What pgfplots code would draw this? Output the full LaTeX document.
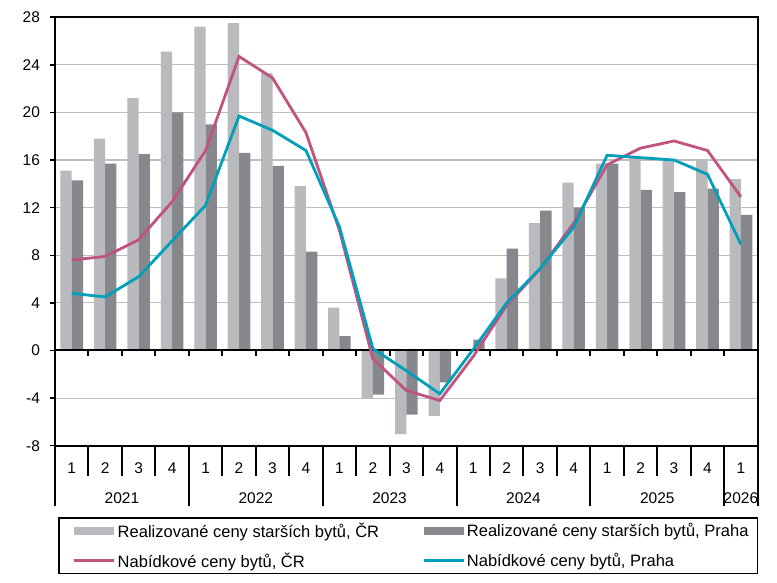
\documentclass[border=0pt]{standalone}
\usepackage{fontspec}
\setmainfont{Liberation Sans}
\usepackage{pgfplots}
\usepackage{pgfplotstable}
\pgfplotsset{compat=1.18}
\definecolor{lightbar}{RGB}{184,186,190}
\definecolor{darkbar}{RGB}{134,136,141}
\definecolor{pinkline}{RGB}{192,84,126}
\definecolor{tealline}{RGB}{0,160,186}
\definecolor{gridgray}{RGB}{191,191,191}

\pgfplotstableread{
x  light  dark   pink   teal
0  15.1   14.3   7.6    4.8
1  17.8   15.7   7.9    4.5
2  21.2   16.5   9.3    6.2
3  25.1   20.0   12.5   9.2
4  27.2   19.0   16.8   12.2
5  27.5   16.6   24.7   19.7
6  23.3   15.5   22.9   18.5
7  13.8   8.3    18.3   16.8
8  3.6    1.2    10.1   10.4
9  -4.05  -3.7   -0.7   0.15
10 -7.03  -5.38  -3.36  -1.7
11 -5.5   -2.69  -4.2   -3.64
12 0.08   0.92   -0.5   0.1
13 6.05   8.56   3.8    4.0
14 10.7   11.75  6.85   6.9
15 14.1   12.0   10.7   10.35
16 15.7   15.7   15.6   16.4
17 16.2   13.5   17.0   16.2
18 15.9   13.3   17.6   16.0
19 15.9   13.6   16.8   14.8
20 14.4   11.4   12.9   8.9
}\datatable

\begin{document}
\begin{tikzpicture}
\useasboundingbox (0,0) rectangle (777pt,583pt);
\begin{axis}[
  at={(55pt,137.3pt)}, anchor=south west,
  scale only axis, width=702.7pt, height=428.5pt,
  xmin=-0.5, xmax=20.5, ymin=-8, ymax=28,
  clip=false,
  axis line style={black, line width=2pt},
  ytick={-8,-4,0,4,8,12,16,20,24,28},
  yticklabels={-8,-4,0,4,8,12,16,20,24,28},
  ymajorgrids, grid style={gridgray, line width=1.1pt},
  ytick pos=left, tick align=outside,
  y tick style={black, line width=1.5pt}, major tick length=5pt,
  xtick={0,1,2,3,4,5,6,7,8,9,10,11,12,13,14,15,16,17,18,19,20},
  xticklabels={1,2,3,4,1,2,3,4,1,2,3,4,1,2,3,4,1,2,3,4,1},
  x tick style={draw=none},
  tick label style={font=\fontsize{15.5}{18}\selectfont},
  yticklabel style={xshift=-6.5pt},
  xticklabel style={anchor=center, yshift=-17.3pt},
  extra x ticks={1.5,5.5,9.5,13.5,17.5,20},
  extra x tick labels={2021,2022,2023,2024,2025,2026},
  extra x tick style={xticklabel style={yshift=-30pt}, x tick style={draw=none}},
  legend columns=2,
  legend cell align=left,
  legend style={at={(0,0)}, anchor=north west, xshift=3.3pt, yshift=-71.6pt,
    draw=black, line width=1.3pt, inner xsep=7pt, inner ysep=5pt,
    font=\fontsize{16.5}{19}\selectfont, row sep=14pt,
    nodes={inner xsep=2pt, inner ysep=0pt},
    /tikz/every even column/.append style={column sep=34pt}},
]
\addplot[ybar, bar width=11.3pt, bar shift=-5.65pt, fill=lightbar, draw=none,
  legend image code/.code={\path (0pt,0pt); \fill[lightbar] (7pt,-4pt) rectangle (47pt,4pt);}]
  table[x=x, y=light] {\datatable};
\addlegendentry{Realizované ceny starších bytů, ČR}
\addplot[ybar, bar width=11.3pt, bar shift=5.65pt, fill=darkbar, draw=none,
  legend image code/.code={\path (0pt,0pt); \fill[darkbar] (7pt,-4pt) rectangle (47pt,4pt);}]
  table[x=x, y=dark] {\datatable};
\addlegendentry{Realizované ceny starších bytů, Praha}

\draw[black, line width=2pt] (axis cs:-0.5,0) -- (axis cs:20.5,0);
\pgfplotsinvokeforeach{0.5,1.5,2.5,3.5,4.5,5.5,6.5,7.5,8.5,9.5,10.5,11.5,12.5,13.5,14.5,15.5,16.5,17.5,18.5,19.5}{
  \draw[black, line width=2pt] (axis cs:#1,0) -- ([yshift=-5.5pt]axis cs:#1,0);
}
\pgfplotsinvokeforeach{0.5,1.5,2.5,4.5,5.5,6.5,8.5,9.5,10.5,12.5,13.5,14.5,16.5,17.5,18.5}{
  \draw[black, line width=2pt] (axis cs:#1,-8) -- ([yshift=-30pt]axis cs:#1,-8);
}
\pgfplotsinvokeforeach{-0.5,3.5,7.5,11.5,15.5,19.5,20.5}{
  \draw[black, line width=2pt] (axis cs:#1,-8) -- ([yshift=-60.3pt]axis cs:#1,-8);
}

\addplot[pinkline, line width=2.8pt, sharp plot, mark=none,
  legend image code/.code={\path (0pt,0pt); \draw[pinkline, line width=2.8pt] (7pt,0pt) -- (47pt,0pt);}]
  table[x=x, y=pink] {\datatable};
\addlegendentry{Nabídkové ceny bytů, ČR}
\addplot[tealline, line width=2.8pt, sharp plot, mark=none,
  legend image code/.code={\path (0pt,0pt); \draw[tealline, line width=2.8pt] (7pt,0pt) -- (47pt,0pt);}]
  table[x=x, y=teal] {\datatable};
\addlegendentry{Nabídkové ceny bytů, Praha}
\end{axis}
\end{tikzpicture}
\end{document}
